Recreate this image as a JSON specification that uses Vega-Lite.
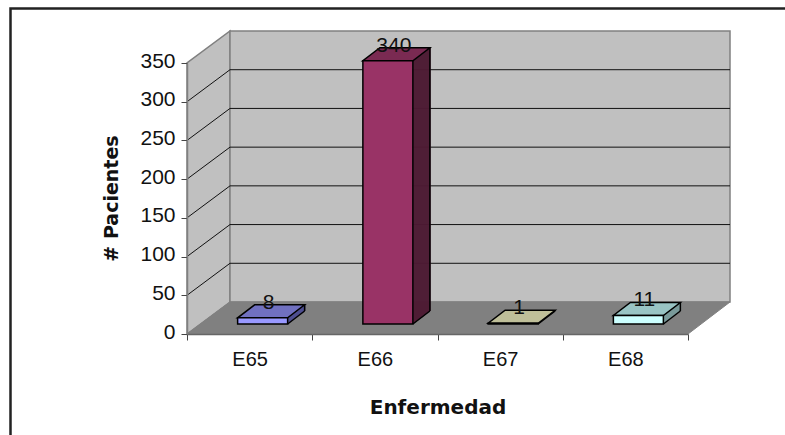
{"$schema":"https://vega.github.io/schema/vega-lite/v6.json","width":501,"height":271,"autosize":{"type":"none"},"padding":{"left":187,"top":63,"right":97,"bottom":101},"background":"white","datasets":{"bars":[{"enfermedad":"E65","pacientes":8},{"enfermedad":"E66","pacientes":340},{"enfermedad":"E67","pacientes":1},{"enfermedad":"E68","pacientes":11}],"grid":[{"pacientes":50},{"pacientes":100},{"pacientes":150},{"pacientes":200},{"pacientes":250},{"pacientes":300}],"frame":[{"pacientes":0}]},"data":{"name":"bars"},"encoding":{"x":{"field":"enfermedad","type":"nominal","title":"Enfermedad","scale":{"paddingInner":0,"paddingOuter":0},"axis":{"labelAngle":0,"labelFont":"Liberation Sans","labelFontSize":20,"labelColor":"#111","labelPadding":9,"tickBand":"extent","tickSize":6,"tickColor":"#444","domainColor":"#666","domainWidth":1.5,"titleFont":"DejaVu Sans","titleFontSize":20,"titleFontWeight":"bold","titleColor":"#111","titleY":73,"titleBaseline":"middle","zindex":1}},"y":{"field":"pacientes","type":"quantitative","title":"# Pacientes","scale":{"domain":[0,350],"nice":false},"axis":{"values":[0,50,100,150,200,250,300,350],"grid":false,"labelFont":"Liberation Sans","labelFontSize":21,"labelColor":"#111","labelPadding":6,"labelOffset":-2,"tickSize":6,"tickColor":"#444","domainColor":"#808080","domainWidth":1.5,"titleFont":"DejaVu Sans","titleFontSize":19,"titleFontWeight":"bold","titleColor":"#111","titleX":-76,"titleY":135,"titleBaseline":"middle","zindex":1}}},"layer":[{"data":{"name":"frame"},"mark":{"type":"point","shape":"M-176.5,105L-176.5,-325.5L600,-325.5","size":4,"filled":false,"stroke":"#222","strokeWidth":2.5,"opacity":1},"encoding":{"x":{"value":0},"y":{"field":"pacientes","type":"quantitative"}}},{"data":{"name":"frame"},"mark":{"type":"point","shape":"M0,0L43,-32L43,-303L0,-271Z","size":4,"filled":true,"fill":"#c0c0c0","stroke":"#808080","strokeWidth":1.5,"opacity":1},"encoding":{"x":{"value":0},"y":{"field":"pacientes","type":"quantitative"}}},{"data":{"name":"frame"},"mark":{"type":"point","shape":"M43,-32L43,-303L543,-303L543,-32Z","size":4,"filled":true,"fill":"#c0c0c0","stroke":"#808080","strokeWidth":1.5,"opacity":1},"encoding":{"x":{"value":0},"y":{"field":"pacientes","type":"quantitative"}}},{"data":{"name":"frame"},"mark":{"type":"point","shape":"M0,0L43,-32L543,-32L501,0Z","size":4,"filled":true,"fill":"#808080","stroke":"#808080","strokeWidth":1,"opacity":1},"encoding":{"x":{"value":0},"y":{"field":"pacientes","type":"quantitative"}}},{"data":{"name":"grid"},"mark":{"type":"point","shape":"M0,0L43,-32L543,-32","size":4,"filled":false,"stroke":"#111","strokeWidth":1,"opacity":1},"encoding":{"x":{"value":0},"y":{"field":"pacientes","type":"quantitative"}}},{"layer":[{"mark":{"type":"rule","strokeWidth":1.6,"xOffset":38,"yOffset":-10,"y2Offset":-10}},{"mark":{"type":"rule","strokeWidth":1.6,"xOffset":39,"yOffset":-10.76,"y2Offset":-10.76}},{"mark":{"type":"rule","strokeWidth":1.6,"xOffset":40,"yOffset":-11.52,"y2Offset":-11.52}},{"mark":{"type":"rule","strokeWidth":1.6,"xOffset":41,"yOffset":-12.28,"y2Offset":-12.28}},{"mark":{"type":"rule","strokeWidth":1.6,"xOffset":42,"yOffset":-13.04,"y2Offset":-13.04}},{"mark":{"type":"rule","strokeWidth":1.6,"xOffset":43,"yOffset":-13.8,"y2Offset":-13.8}},{"mark":{"type":"rule","strokeWidth":1.6,"xOffset":44,"yOffset":-14.56,"y2Offset":-14.56}},{"mark":{"type":"rule","strokeWidth":1.6,"xOffset":45,"yOffset":-15.32,"y2Offset":-15.32}},{"mark":{"type":"rule","strokeWidth":1.6,"xOffset":46,"yOffset":-16.08,"y2Offset":-16.08}},{"mark":{"type":"rule","strokeWidth":1.6,"xOffset":47,"yOffset":-16.84,"y2Offset":-16.84}},{"mark":{"type":"rule","strokeWidth":1.6,"xOffset":48,"yOffset":-17.6,"y2Offset":-17.6}},{"mark":{"type":"rule","strokeWidth":1.6,"xOffset":49,"yOffset":-18.36,"y2Offset":-18.36}},{"mark":{"type":"rule","strokeWidth":1.6,"xOffset":50,"yOffset":-19.12,"y2Offset":-19.12}},{"mark":{"type":"rule","strokeWidth":1.6,"xOffset":51,"yOffset":-19.88,"y2Offset":-19.88}},{"mark":{"type":"rule","strokeWidth":1.6,"xOffset":52,"yOffset":-20.64,"y2Offset":-20.64}},{"mark":{"type":"rule","strokeWidth":1.6,"xOffset":53,"yOffset":-21.4,"y2Offset":-21.4}},{"mark":{"type":"rule","strokeWidth":1.6,"xOffset":54,"yOffset":-22.16,"y2Offset":-22.16}},{"mark":{"type":"rule","strokeWidth":1.6,"xOffset":55,"yOffset":-23,"y2Offset":-23}}],"encoding":{"y2":{"datum":0},"stroke":{"field":"enfermedad","type":"nominal","legend":null,"scale":{"domain":["E65","E66","E67","E68"],"range":["#4f4f90","#4d1a33","#8f8f6f","#7a9a9a"]}}}},{"mark":{"type":"rule","stroke":"#000","strokeWidth":1.5,"xOffset":55,"yOffset":-23,"y2Offset":-23},"encoding":{"y2":{"datum":0}}},{"data":{"name":"bars"},"mark":{"type":"point","shape":"M25,0L42,-13","size":4,"filled":false,"stroke":"#000","strokeWidth":1.5,"opacity":1,"xOffset":13,"yOffset":-10},"encoding":{"y":{"datum":0}}},{"mark":{"type":"point","shape":"M-25,0L25,0L42,-13L-8,-13Z","size":4,"filled":true,"stroke":"#000","strokeWidth":1.5,"opacity":1,"xOffset":13,"yOffset":-10},"encoding":{"color":{"field":"enfermedad","type":"nominal","legend":null,"scale":{"domain":["E65","E66","E67","E68"],"range":["#7070c0","#7a2a52","#bfbf99","#99c4c4"]}}}},{"mark":{"type":"bar","size":50,"stroke":"#000","strokeWidth":1.5,"xOffset":13,"yOffset":-10,"y2Offset":-10},"encoding":{"fill":{"field":"enfermedad","type":"nominal","legend":null,"scale":{"domain":["E65","E66","E67","E68"],"range":["#9999ff","#993366","#ffffcc","#ccffff"]}}}},{"mark":{"type":"text","font":"Liberation Sans","fontSize":21,"color":"#111","baseline":"middle","xOffset":19,"yOffset":-25},"encoding":{"text":{"field":"pacientes","type":"quantitative"}}}]}
